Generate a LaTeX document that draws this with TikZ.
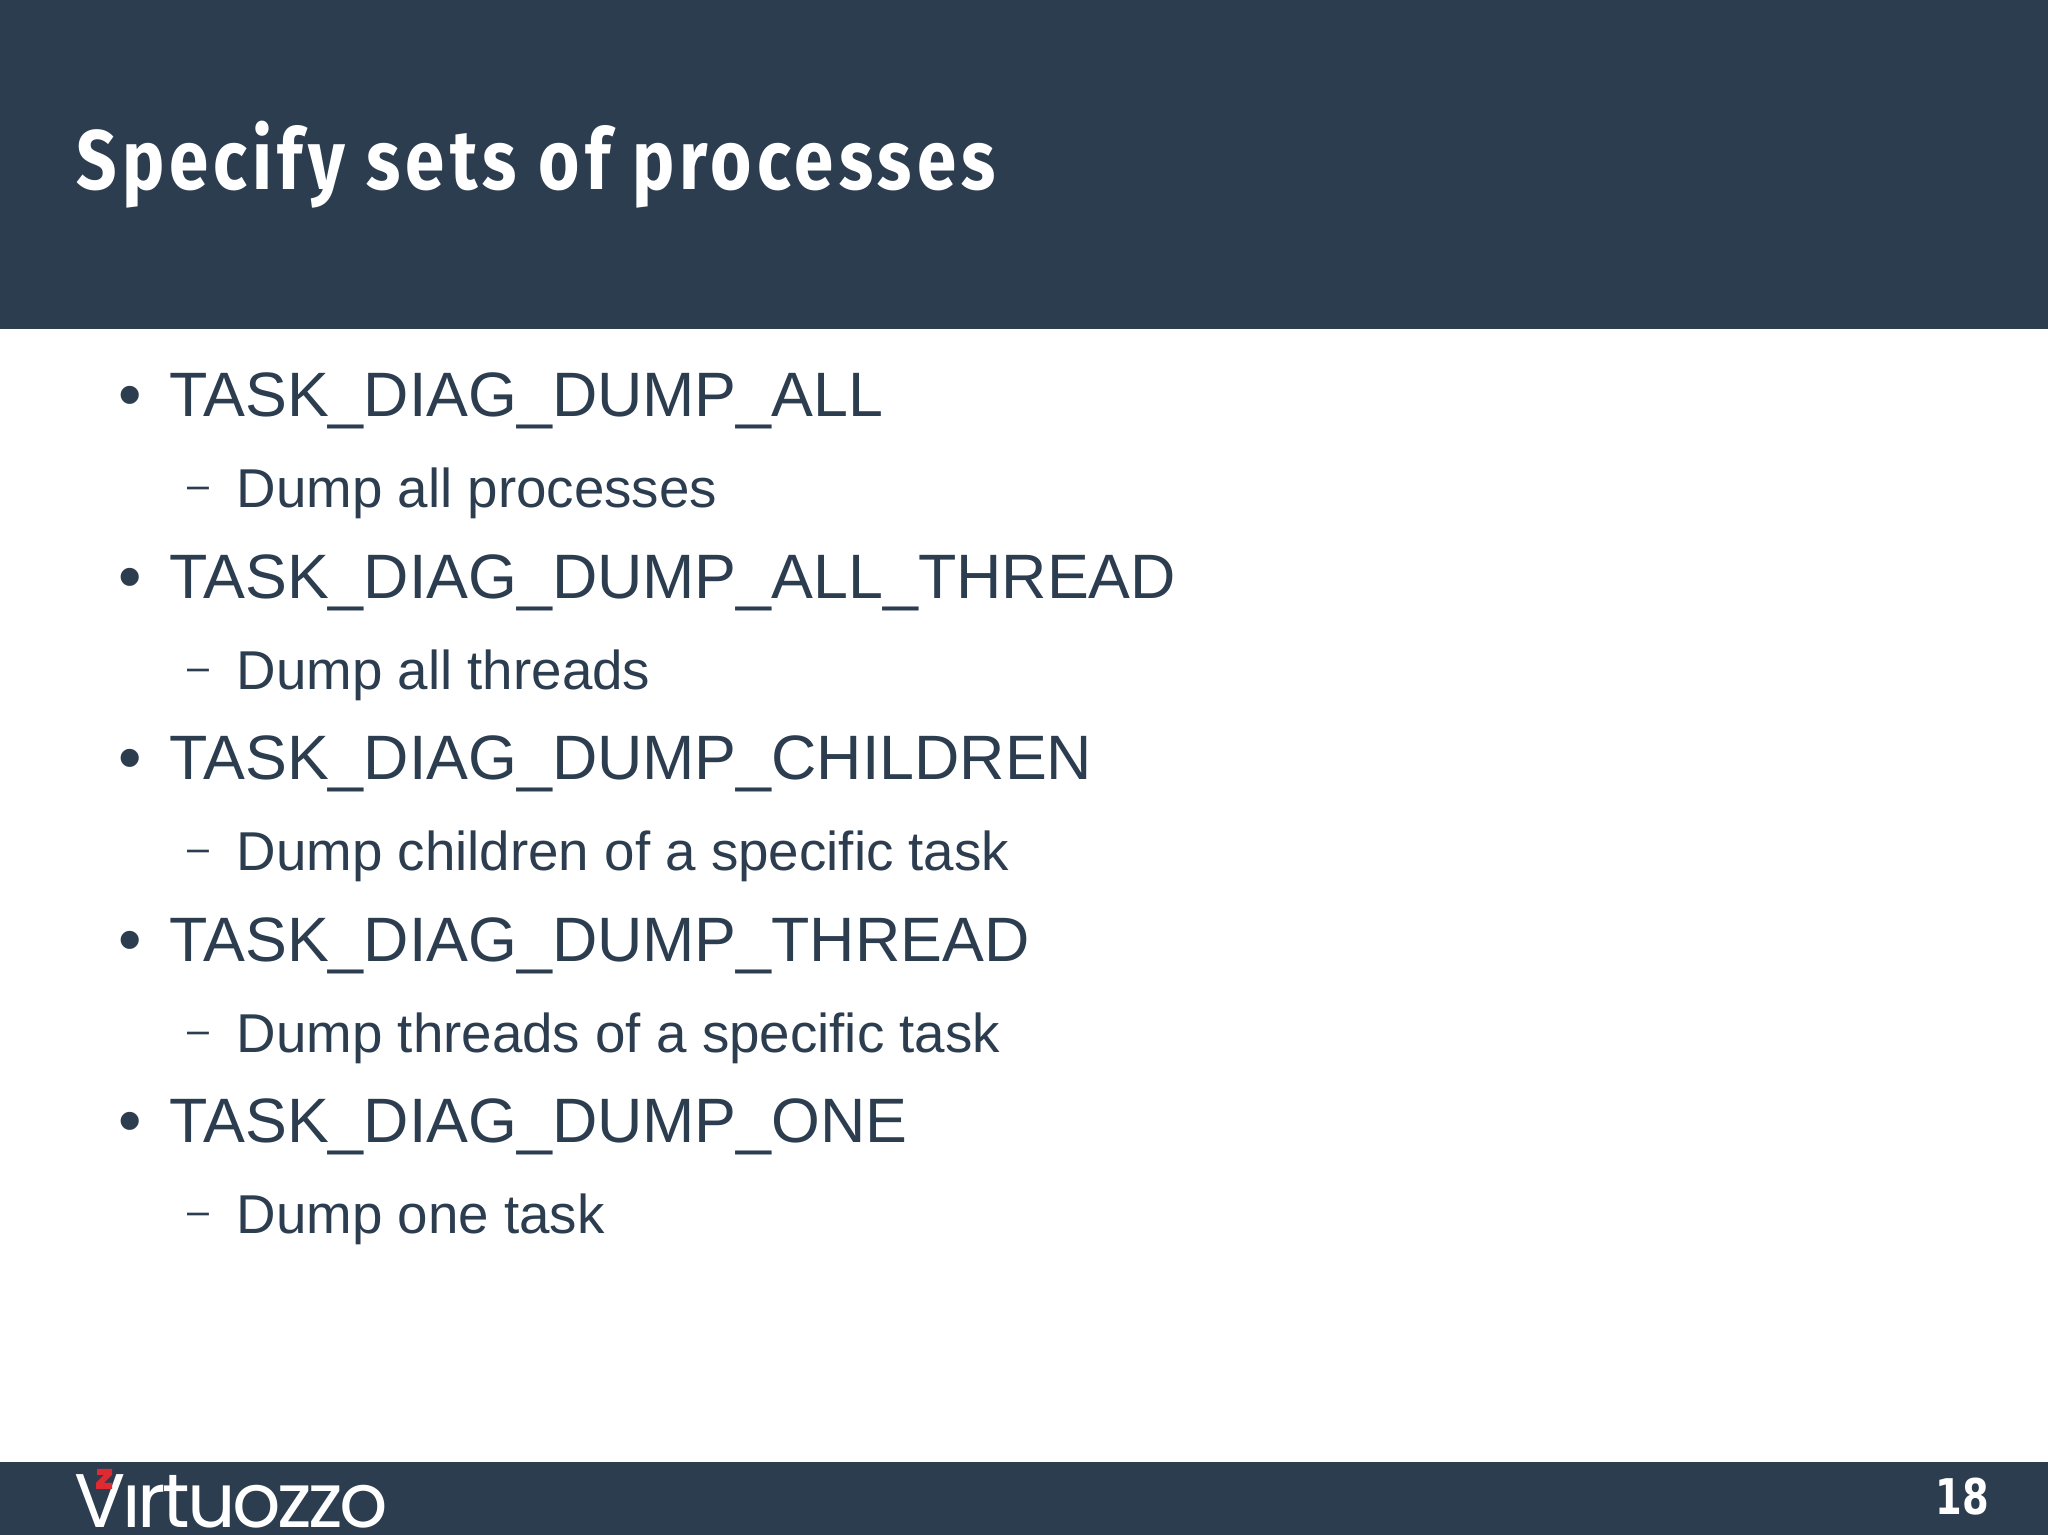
\documentclass[tikz,border=0pt]{standalone}
\usepackage{fontspec}
\usepackage{tikz}
\setmainfont{Liberation Sans}
\newfontfamily\titlefont[FakeStretch=0.84,LetterSpace=6]{Fira Sans}
\newfontfamily\pagefont[FakeStretch=0.78]{DejaVu Sans}
\newfontfamily\logofont[LetterSpace=-4.5]{Poppins}
\definecolor{slate}{RGB}{44, 61, 80}
\definecolor{logored}{RGB}{222, 42, 48}
\tikzset{
  item/.style={anchor=base west, inner sep=0, text=slate, font=\fontsize{17.85}{20}\selectfont},
  subitem/.style={anchor=base west, inner sep=0, text=slate, font=\fontsize{15.57}{18}\selectfont},
  bulletmark/.style={anchor=base, inner sep=0, text=slate, font=\fontsize{19}{20}\selectfont},
  dashmark/.style={anchor=base, inner sep=0, text=slate, font=\fontsize{11.2}{12}\selectfont}
}

\begin{document}
\begin{tikzpicture}[x=0.1mm, y=0.1mm]
  \useasboundingbox (0, 0) rectangle (2048, 1535);
  \fill[white] (0, 0) rectangle (2048, 1535);

  % header and footer bands
  \fill[slate] (0, 1206) rectangle (2048, 1535);
  \fill[slate] (0, 0) rectangle (2048, 73);

  \node[anchor=base west, inner sep=0, text=white, font=\titlefont\bfseries\fontsize{24}{28}\selectfont]
    (title) at (76, 1345) {Specify sets of processes};

  \begin{scope}
    \node[bulletmark] (b1) at (130, 1117) {•};
    \node[item] (t1) at (169, 1118) {TASK\_DIAG\_DUMP\_ALL};
    \node[dashmark] (d1) at (198, 1036) {–};
    \node[subitem] (s1) at (236, 1027) {Dump all processes};

    \node[bulletmark] (b2) at (130, 935.5) {•};
    \node[item] (t2) at (169, 936.5) {TASK\_DIAG\_DUMP\_ALL\_THREAD};
    \node[dashmark] (d2) at (198, 854.5) {–};
    \node[subitem] (s2) at (236, 845.5) {Dump all threads};

    \node[bulletmark] (b3) at (130, 754) {•};
    \node[item] (t3) at (169, 755) {TASK\_DIAG\_DUMP\_CHILDREN};
    \node[dashmark] (d3) at (198, 673) {–};
    \node[subitem] (s3) at (236, 664) {Dump children of a specific task};

    \node[bulletmark] (b4) at (130, 572.5) {•};
    \node[item] (t4) at (169, 573.5) {TASK\_DIAG\_DUMP\_THREAD};
    \node[dashmark] (d4) at (198, 491.5) {–};
    \node[subitem] (s4) at (236, 482.5) {Dump threads of a specific task};

    \node[bulletmark] (b5) at (130, 391) {•};
    \node[item] (t5) at (169, 392) {TASK\_DIAG\_DUMP\_ONE};
    \node[dashmark] (d5) at (198, 310) {–};
    \node[subitem] (s5) at (236, 301) {Dump one task};
  \end{scope}

  % footer logo and page number
  \node[anchor=base west, inner sep=0, text=white, font=\logofont\fontsize{21.6}{24}\selectfont]
    (logo) at (74, 7) {Vırtuozzo};
  \fill[logored] (97, 66) -- (112, 66) -- (112, 60) -- (104, 52) -- (112, 52) -- (112, 46)
                 -- (96, 46) -- (96, 52) -- (104, 60) -- (97, 60) -- cycle;
  \node[anchor=base east, inner sep=0, text=white, font=\pagefont\bfseries\fontsize{14}{16}\selectfont]
    (page) at (1989.5, 20) {18};
\end{tikzpicture}
\end{document}
